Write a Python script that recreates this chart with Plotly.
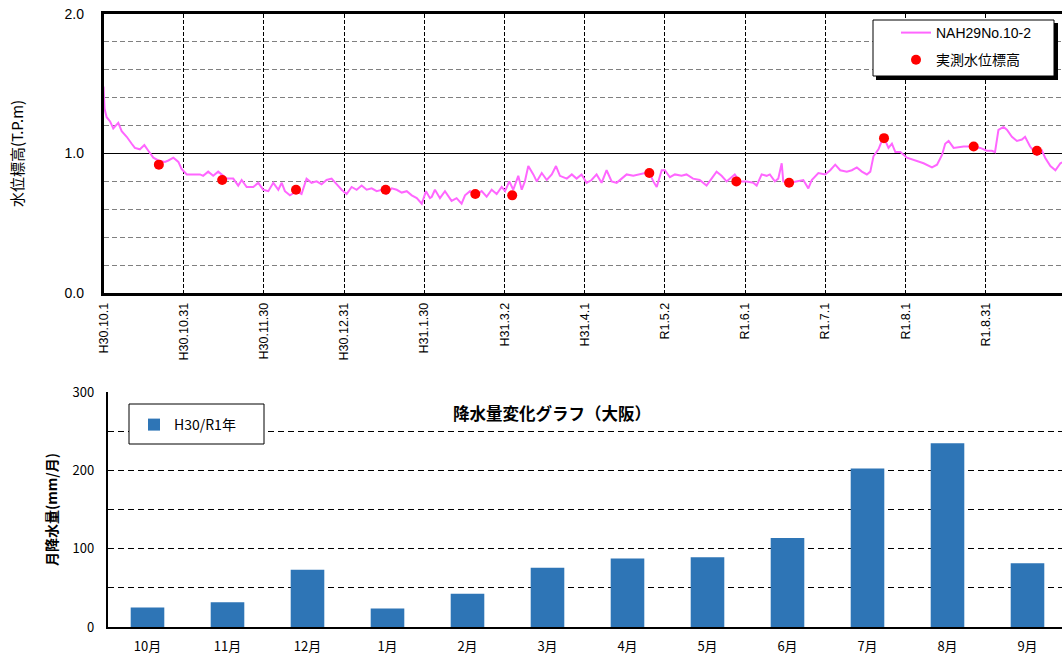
import pandas as pd
import plotly.graph_objects as go

# ---------------- data ----------------
start_date = "2018-10-01"

# groundwater level (NAH29No.10-2): day offset from start, value (T.P.m)
level_days = [
    0, 0.4, 1.2, 2.5, 3.7, 4.7, 5.6, 6.9, 8.8, 10.7, 11.9, 13.8, 15.5, 17.0, 18.9, 20.8,
    23.3, 24.6, 26.5, 28.4, 29.6, 31.6, 34.0, 36.6, 37.8, 39.7, 41.6, 43.5, 46.7, 49.2,
    51.1, 52.4, 54.3, 56.8, 58.7, 60.6, 62.5, 64.4, 66.3, 67.6, 68.8, 70.7, 73.3, 75.1,
    77.0, 78.9, 80.8, 82.7, 84.6, 86.5, 88.4, 90.3, 92.2, 94.1, 96.0, 97.9, 99.8, 101.7,
    103.6, 105.5, 107.4, 109.3, 111.2, 113.1, 115.0, 116.9, 118.8, 120.7, 122.3, 123.8,
    124.5, 125.7, 127.6, 129.5, 132.0, 133.9, 135.8, 137.1, 139.0, 140.9, 143.4, 145.3,
    147.2, 149.1, 151.0, 152.3, 153.9, 155.4, 157.3, 158.6, 159.8, 161.1, 163.0, 164.3,
    166.2, 168.1, 170.0, 171.6, 173.1, 175.7, 177.6, 179.4, 181.3, 183.2, 185.1, 187.0,
    188.9, 190.8, 192.7, 194.6, 196.5, 198.4, 200.9, 203.5, 205.4, 207.3, 208.5, 209.8,
    211.7, 212.9, 214.8, 216.7, 219.2, 221.1, 223.6, 226.1, 228.7, 230.6, 232.5, 234.4,
    236.3, 239.4, 241.3, 243.9, 246.4, 247.7, 249.6, 251.5, 252.7, 254.6, 255.9, 257.2,
    257.8, 260.4, 262.9, 265.4, 267.3, 268.6, 271.1, 273.7, 275.6, 277.5, 279.4, 281.9,
    283.8, 285.7, 287.6, 289.5, 290.8, 292.0, 293.9, 295.8, 297.7, 299.0, 300.3, 302.2,
    304.7, 307.8, 311.0, 314.2, 316.1, 318.0, 319.2, 320.5, 322.4, 326.2, 330.0, 332.5,
    335.0, 336.9, 338.1, 339.4, 341.3, 342.6, 344.5, 346.4, 348.3, 349.5, 351.4, 354.0,
    355.9, 357.1, 359.1, 361.0, 362.9, 364.0,
]
level_values = [
    1.48, 1.32, 1.26, 1.23, 1.18, 1.20, 1.22, 1.16, 1.12, 1.07, 1.04, 1.03, 1.06, 1.02, 0.97, 0.95,
    0.94, 0.95, 0.97, 0.94, 0.89, 0.85, 0.85, 0.85, 0.84, 0.87, 0.84, 0.87, 0.82, 0.82,
    0.77, 0.81, 0.76, 0.76, 0.79, 0.74, 0.73, 0.79, 0.74, 0.79, 0.73, 0.70, 0.73, 0.71,
    0.82, 0.79, 0.80, 0.78, 0.81, 0.82, 0.78, 0.74, 0.71, 0.76, 0.74, 0.77, 0.74, 0.75,
    0.73, 0.74, 0.71, 0.75, 0.74, 0.72, 0.73, 0.70, 0.68, 0.64, 0.73, 0.68,
    0.69, 0.74, 0.68, 0.73, 0.66, 0.68, 0.64, 0.70, 0.73, 0.70, 0.73, 0.69,
    0.74, 0.71, 0.76, 0.73, 0.80, 0.74, 0.84, 0.74, 0.80, 0.91, 0.85, 0.80,
    0.86, 0.81, 0.85, 0.91, 0.84, 0.82, 0.85, 0.82, 0.85, 0.79, 0.81, 0.85,
    0.79, 0.88, 0.80, 0.79, 0.82, 0.85, 0.84, 0.85, 0.86, 0.85, 0.80, 0.76,
    0.88, 0.88, 0.83, 0.85, 0.84, 0.85, 0.82, 0.81, 0.77, 0.82, 0.87, 0.84,
    0.80, 0.85, 0.80, 0.80, 0.79, 0.77, 0.85, 0.84, 0.85, 0.80, 0.82, 0.93,
    0.80, 0.79, 0.80, 0.81, 0.75, 0.81, 0.86, 0.85, 0.88, 0.92, 0.88, 0.87,
    0.88, 0.90, 0.87, 0.85, 0.87, 0.98, 1.03, 1.12, 1.04, 1.07, 1.01, 1.01,
    0.97, 0.95, 0.93, 0.90, 0.92, 0.99, 1.07, 1.09, 1.04, 1.05, 1.05, 1.04,
    1.02, 1.02, 1.01, 1.17, 1.19, 1.17, 1.12, 1.09, 1.10, 1.12, 1.05, 0.99,
    1.02, 0.97, 0.91, 0.88, 0.93, 0.94,
]

# measured water level (実測水位標高)
obs_days = [21, 45, 73, 107, 141, 155, 207, 240, 260, 296, 330, 354]
obs_values = [0.92, 0.81, 0.74, 0.74, 0.71, 0.70, 0.86, 0.80, 0.79, 1.11, 1.05, 1.02]

# x tick labels of the water-level chart (one every 1/12 year)
tick_labels = ["H30.10.1", "H30.10.31", "H30.11.30", "H30.12.31", "H31.1.30", "H31.3.2",
               "H31.4.1", "R1.5.2", "R1.6.1", "R1.7.1", "R1.8.1", "R1.8.31"]

# monthly precipitation (Osaka)
months = ["10月", "11月", "12月", "1月", "2月", "3月", "4月", "5月", "6月", "7月", "8月", "9月"]
rain = [25.0, 31.5, 73.0, 23.5, 42.5, 75.5, 87.5, 89.0, 113.5, 202.5, 234.5, 81.5]

# ---------------- build ----------------
t0 = pd.Timestamp(start_date)
level_dates = [t0 + pd.Timedelta(days=d) for d in level_days]
obs_dates = [t0 + pd.Timedelta(days=d) for d in obs_days]
tick_vals = [t0 + pd.Timedelta(days=k * 365 / 12) for k in range(len(tick_labels))]
x_end = t0 + pd.Timedelta(days=363.5)

W, H = 1062, 657
def px(x):
    return x / W
def py(y):
    return 1 - y / H

TOPFONT = "Liberation Sans, Arial, Noto Sans CJK JP, sans-serif"
JPFONT = "Noto Sans CJK JP, sans-serif"

fig = go.Figure()
fig.add_trace(go.Scatter(
    x=level_dates, y=level_values, mode="lines", name="NAH29No.10-2",
    line=dict(color="#FF66FF", width=2), xaxis="x", yaxis="y",
    legend="legend", legendgroup="a",
))
fig.add_trace(go.Scatter(
    x=obs_dates, y=obs_values, mode="markers", name="実測水位標高",
    marker=dict(color="#FF0000", size=10), xaxis="x", yaxis="y",
    legend="legend", legendgroup="b",
))
fig.add_trace(go.Bar(
    x=months, y=rain, name="H30/R1年", width=0.42,
    marker=dict(color="#2E75B6", line=dict(width=0)),
    xaxis="x2", yaxis="y2", legend="legend2",
))

fig.update_layout(
    width=W, height=H,
    margin=dict(l=0, r=0, t=0, b=0, autoexpand=False),
    paper_bgcolor="white", plot_bgcolor="white",
    font=dict(family=TOPFONT, color="black"),
    xaxis=dict(
        type="date", domain=[px(103.5), 1.0], range=[t0, x_end], anchor="y",
        tickmode="array", tickvals=tick_vals, ticktext=tick_labels, tickangle=-90,
        tickfont=dict(size=12.5, family=TOPFONT), ticks="", ticklabelstandoff=2,
        showgrid=True, gridcolor="black", gridwidth=1, griddash="4px,2px",
        showline=True, linecolor="black", linewidth=2.5, mirror=True,
        zeroline=False, automargin=False,
    ),
    yaxis=dict(
        domain=[py(293), py(14)], range=[0, 2], anchor="x",
        tickmode="linear", tick0=0, dtick=1, tickformat=".1f",
        tickfont=dict(size=14, family=TOPFONT), ticks="", ticklabelstandoff=14,
        showgrid=True, gridcolor="black", gridwidth=1.2,
        minor=dict(dtick=0.2, showgrid=True, gridcolor="#808080", griddash="5px,3px", gridwidth=1),
        showline=True, linecolor="black", linewidth=2.5, zeroline=False, automargin=False,
        title=dict(text="水位標高(T.P.m)", font=dict(size=15, family=JPFONT), standoff=38),
    ),
    xaxis2=dict(
        domain=[px(107.5), 1.0], range=[-0.5, -0.5 + (W - 107.5) / 80.0], anchor="y2",
        tickfont=dict(size=13, family=JPFONT), ticks="", ticklabelstandoff=7,
        showgrid=False, showline=True, linecolor="black", linewidth=1.5, zeroline=False,
        automargin=False,
    ),
    yaxis2=dict(
        domain=[py(627), py(392)], range=[0, 300], anchor="x2",
        tickmode="linear", tick0=0, dtick=100,
        tickfont=dict(size=13, family=JPFONT), ticks="", ticklabelstandoff=9,
        showgrid=True, gridcolor="black", gridwidth=1, griddash="6px,4px",
        minor=dict(dtick=50, showgrid=True, gridcolor="black", griddash="6px,4px", gridwidth=1),
        showline=True, linecolor="black", linewidth=1.5, zeroline=False, automargin=False,
        title=dict(text="<b>月降水量(mm/月)</b>", font=dict(size=14, family=JPFONT), standoff=12),
    ),
    legend=dict(
        x=px(896), y=py(17), xanchor="left", yanchor="top",
        bgcolor="rgba(0,0,0,0)", borderwidth=0,
        font=dict(size=14, family=TOPFONT), tracegroupgap=6,
    ),
    legend2=dict(
        x=px(134), y=py(409), xanchor="left", yanchor="top",
        bgcolor="rgba(0,0,0,0)", borderwidth=0,
        font=dict(size=14, family=JPFONT),
    ),
    showlegend=True,
    shapes=[
        # legend box (top chart) with drop shadow
        dict(type="rect", xref="paper", yref="paper",
             x0=px(876), x1=px(1058), y0=py(80), y1=py(23),
             fillcolor="black", line=dict(width=0), layer="above"),
        dict(type="rect", xref="paper", yref="paper",
             x0=px(873), x1=px(1054), y0=py(76), y1=py(20),
             fillcolor="white", line=dict(color="black", width=1), layer="above"),
        # legend box (bottom chart)
        dict(type="rect", xref="paper", yref="paper",
             x0=px(129), x1=px(264), y0=py(444), y1=py(404),
             fillcolor="white", line=dict(color="black", width=1), layer="above"),
    ],
    annotations=[
        dict(text="<b>降水量変化グラフ（大阪）</b>", xref="paper", yref="paper",
             x=px(552), y=py(413), xanchor="center", yanchor="middle", showarrow=False,
             font=dict(size=16.5, family=JPFONT, color="black")),
    ],
)

fig.write_html(
    "out.html",
    config={"displayModeBar": False},
    post_script="document.body.style.margin='0px';",
)
